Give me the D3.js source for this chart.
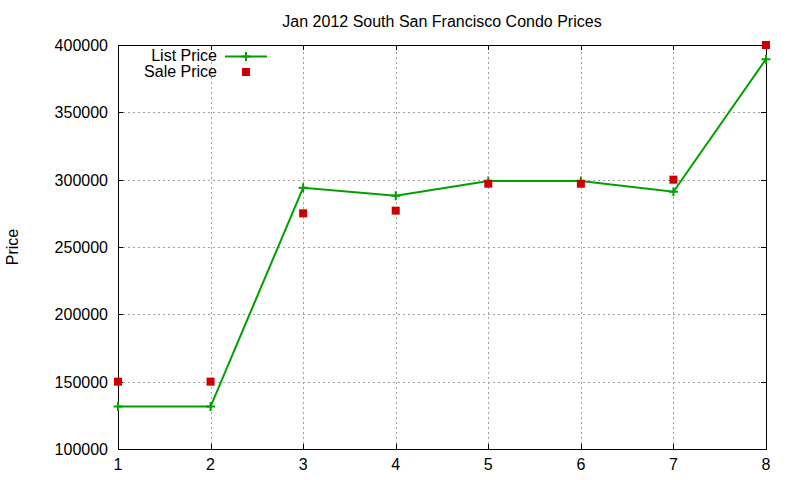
<!DOCTYPE html>
<html>
<head>
<meta charset="utf-8">
<script src="https://cdn.jsdelivr.net/npm/d3@7"></script>
<style>
  body { margin: 0; background: #fff; }
  text { font-family: "Liberation Sans", Arial, sans-serif; fill: #000; }
</style>
</head>
<body>
<svg id="chart" width="800" height="480"></svg>
<script>
// values
const units = [1, 2, 3, 4, 5, 6, 7, 8];
const listPrice = [131500, 131500, 294000, 288000, 299000, 299000, 291000, 389500];
const salePrice = [150000, 150000, 275000, 277000, 297000, 297000, 300000, 400000];
const yTicks = [100000, 150000, 250000, 200000, 300000, 350000, 400000].sort((a, b) => a - b);

const svg = d3.select("#chart"),
      margin = {top: 45, right: 34, bottom: 31, left: 118},
      width = 800 - margin.left - margin.right,
      height = 480 - margin.top - margin.bottom;

const x = d3.scaleLinear().domain([1, 8]).range([margin.left, margin.left + width]);
const y = d3.scaleLinear().domain([100000, 400000]).range([margin.top + height, margin.top]);

const green = "#00a000", red = "#cc0000", tickLen = 5;

// grid
const grid = svg.append("g")
    .attr("stroke", "#a0a0a0")
    .attr("stroke-width", 1)
    .attr("stroke-dasharray", "2,3");

grid.selectAll(".gx")
    .data(units.slice(1, -1))
    .join("line")
    .attr("x1", d => Math.round(x(d)) + 0.5).attr("x2", d => Math.round(x(d)) + 0.5)
    .attr("y1", y(100000)).attr("y2", y(400000));

grid.selectAll(".gy")
    .data(yTicks.slice(1, -1))
    .join("line")
    .attr("y1", d => Math.round(y(d)) + 0.5).attr("y2", d => Math.round(y(d)) + 0.5)
    .attr("x1", x(1)).attr("x2", x(8));

// axes with inward ticks, mirrored
const axes = svg.append("g").attr("stroke", "#000").attr("stroke-width", 1);

axes.selectAll(".tx")
    .data(units)
    .join("path")
    .attr("d", d => {
        const px = Math.round(x(d)) + 0.5;
        return `M${px},${y(100000)}v${-tickLen}M${px},${y(400000)}v${tickLen}`;
    });

axes.selectAll(".ty")
    .data(yTicks)
    .join("path")
    .attr("d", d => {
        const py = Math.round(y(d)) + 0.5;
        return `M${x(1)},${py}h${tickLen}M${x(8)},${py}h${-tickLen}`;
    });

axes.append("rect")
    .attr("x", Math.round(x(1)) + 0.5)
    .attr("y", Math.round(y(400000)) + 0.5)
    .attr("width", Math.round(x(8)) - Math.round(x(1)))
    .attr("height", Math.round(y(100000)) - Math.round(y(400000)))
    .attr("fill", "none");

// tick labels
svg.append("g").selectAll("text")
    .data(units)
    .join("text")
    .attr("x", d => x(d))
    .attr("y", y(100000) + 21)
    .attr("text-anchor", "middle")
    .style("font-size", "16px")
    .text(d => d);

svg.append("g").selectAll("text")
    .data(yTicks)
    .join("text")
    .attr("x", x(1) - 10)
    .attr("y", d => y(d) + 6)
    .attr("text-anchor", "end")
    .style("font-size", "16px")
    .text(d => d);

// title and y label
svg.append("text")
    .attr("x", (x(1) + x(8)) / 2)
    .attr("y", 27)
    .attr("text-anchor", "middle")
    .style("font-size", "16px")
    .text("Jan 2012 South San Francisco Condo Prices");

svg.append("text")
    .attr("transform", `translate(18, ${(y(100000) + y(400000)) / 2}) rotate(-90)`)
    .attr("text-anchor", "middle")
    .style("font-size", "16px")
    .text("Price");

// list price line + plus markers
const line = d3.line().x((d, i) => x(units[i])).y(d => y(d));

svg.append("path")
    .datum(listPrice)
    .attr("d", line)
    .attr("fill", "none")
    .attr("stroke", green)
    .attr("stroke-width", 2);

const plus = (cx, cy, r) => `M${cx - r},${cy}h${2 * r}M${cx},${cy - r}v${2 * r}`;

svg.append("g").selectAll("path")
    .data(listPrice)
    .join("path")
    .attr("d", (d, i) => plus(x(units[i]), y(d), 4.5))
    .attr("stroke", green)
    .attr("stroke-width", 2);

// sale price squares
svg.append("g").selectAll("rect")
    .data(salePrice)
    .join("rect")
    .attr("x", (d, i) => x(units[i]) - 4)
    .attr("y", d => y(d) - 4)
    .attr("width", 8)
    .attr("height", 8)
    .attr("fill", red);

// legend
const legend = svg.append("g");
legend.append("text")
    .attr("x", 217).attr("y", 61)
    .attr("text-anchor", "end")
    .style("font-size", "16px")
    .text("List Price");
legend.append("path")
    .attr("d", "M225,56.5h42")
    .attr("stroke", green).attr("stroke-width", 2);
legend.append("path")
    .attr("d", plus(246, 56.5, 4.5))
    .attr("stroke", green).attr("stroke-width", 2);
legend.append("text")
    .attr("x", 217).attr("y", 77)
    .attr("text-anchor", "end")
    .style("font-size", "16px")
    .text("Sale Price");
legend.append("rect")
    .attr("x", 242).attr("y", 68)
    .attr("width", 8).attr("height", 8)
    .attr("fill", red);
</script>
</body>
</html>
